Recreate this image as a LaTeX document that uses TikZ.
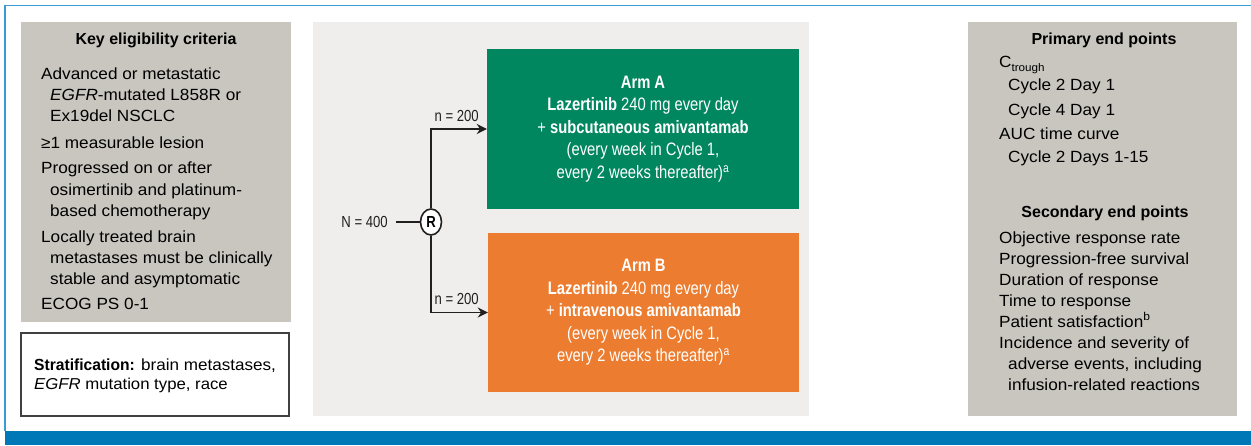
\documentclass[tikz,border=0pt]{standalone}
\usepackage{fontspec}
\setmainfont{Liberation Sans}
\newfontfamily\bodyfont[FakeStretch=1.06]{Liberation Sans}
\newfontfamily\condfont[FakeStretch=0.82]{Liberation Sans}
\newfontfamily\stratbold[FakeStretch=0.97]{Liberation Sans Bold}
\usetikzlibrary{arrows.meta,shapes.geometric}
\definecolor{framelight}{RGB}{58,155,213}
\definecolor{bluebar}{RGB}{0,119,182}
\definecolor{graybox}{RGB}{201,198,191}
\definecolor{lightbox}{RGB}{239,238,236}
\definecolor{armgreen}{RGB}{0,135,95}
\definecolor{armorange}{RGB}{236,125,48}
\definecolor{inkdark}{RGB}{35,31,32}
\tikzset{
  bodytext/.style={inner sep=0pt, anchor=base west, text=black, font=\bodyfont\fontsize{16.2}{21}\selectfont},
  titletext/.style={inner sep=0pt, anchor=base, text=black, font=\bfseries\fontsize{16}{21}\selectfont},
  armbox/.style={inner sep=0pt, text=white, align=center, font=\condfont\fontsize{18}{22.5}\selectfont},
  condtext/.style={inner sep=0pt, text=inkdark, font=\condfont\fontsize{16}{20}\selectfont},
  arrowline/.style={draw=inkdark, line width=1.6pt, -{Stealth[length=10pt,width=10pt]}},
  plainline/.style={draw=inkdark, line width=1.6pt}
}
\begin{document}
\begin{tikzpicture}[x=1pt,y=-1pt]
\useasboundingbox (0,0) rectangle (1251,445);
\fill[white] (0,0) rectangle (1251,445);
% frame
\draw[framelight, line width=1.5pt] (5,431) -- (5,5.5) -- (1251,5.5);
\fill[bluebar] (5,431) rectangle (1251,445);
% panels
\fill[graybox] (21,22) rectangle (291,322);
\draw[draw=black!75, line width=1.1pt, fill=white] (21,333) rectangle (289,416);
\fill[lightbox] (313,22) rectangle (809,416);
\fill[graybox] (968,22) rectangle (1237,416);

% left box
\node[titletext] (keytitle) at (156,44) {Key eligibility criteria};
\foreach \x/\y/\t [count=\i] in {
  41/79/{Advanced or metastatic},
  50/100/{\textit{EGFR}-mutated L858R or},
  50/121/{Ex19del NSCLC},
  41/148/{≥1 measurable lesion},
  41/173/{Progressed on or after},
  50/195/{osimertinib and platinum-},
  50/216/{based chemotherapy},
  41/242/{Locally treated brain},
  50/263/{metastases must be clinically},
  50/284/{stable and asymptomatic},
  41/309/{ECOG PS 0-1}}
  \node[bodytext] (L\i) at (\x,\y) {\t};

% stratification
\node[bodytext, font=\bodyfont\fontsize{16.1}{21}\selectfont] (strat1) at (34,370) {{\stratbold Stratification:} brain metastases,};
\node[bodytext, font=\bodyfont\fontsize{15.8}{21}\selectfont] (strat2) at (34,389) {\textit{EGFR} mutation type, race};

% arms
\node[armbox, fill=armgreen, minimum width=312pt, minimum height=160pt] (armA) at (643,129)
  {\textbf{Arm A}\\ \textbf{Lazertinib} 240 mg every day\\ + \textbf{subcutaneous amivantamab}\\ (every week in Cycle 1,\\ every 2 weeks thereafter)\textsuperscript{a}};
\node[armbox, fill=armorange, minimum width=311pt, minimum height=159pt] (armB) at (643.5,312.5)
  {\textbf{Arm B}\\ \textbf{Lazertinib} 240 mg every day\\ + \textbf{intravenous amivantamab}\\ (every week in Cycle 1,\\ every 2 weeks thereafter)\textsuperscript{a}};

% randomisation
\node[draw=inkdark, line width=1.6pt, fill=white, ellipse, minimum width=21pt, minimum height=26pt, inner sep=0pt, font=\condfont\bfseries\fontsize{16}{16}\selectfont] (R) at (431,222) {R};
\node[condtext, anchor=east] (N) at (388,222) {N = 400};
\coordinate (Nend) at (396,222);
\draw[plainline] (Nend) -- (R.west);
\draw[arrowline] (R.north) |- (armA.west);
\draw[arrowline] (R.south) |- (armB.west);
\node[condtext, anchor=base east] (nA) at (479,121) {n = 200};
\node[condtext, anchor=base east] (nB) at (479,304) {n = 200};

% right box
\node[titletext] (primtitle) at (1104,44) {Primary end points};
\node[bodytext] (R1) at (999,67) {C\raisebox{-4pt}{\fontsize{11}{11}\selectfont trough}};
\foreach \x/\y/\t [count=\i from 2] in {
  1008/90.5/{Cycle 2 Day 1},
  1008/115/{Cycle 4 Day 1},
  999/139/{AUC time curve},
  1008/162/{Cycle 2 Days 1-15}}
  \node[bodytext] (R\i) at (\x,\y) {\t};
\node[titletext] (sectitle) at (1105,217) {Secondary end points};
\foreach \x/\y/\t [count=\i] in {
  999/243/{Objective response rate},
  999/264/{Progression-free survival},
  999/285/{Duration of response},
  999/306/{Time to response},
  999/327/{Patient satisfaction\textsuperscript{b}},
  999/348/{Incidence and severity of},
  1008/369/{adverse events, including},
  1008/390/{infusion-related reactions}}
  \node[bodytext] (S\i) at (\x,\y) {\t};
\end{tikzpicture}
\end{document}
